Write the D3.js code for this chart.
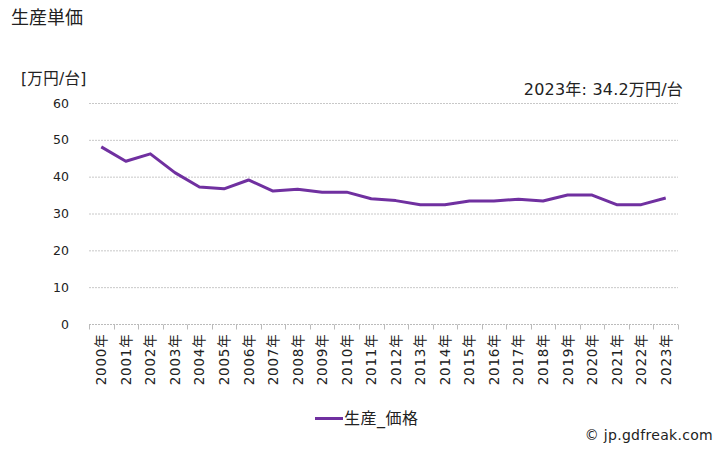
<!DOCTYPE html>
<html><head><meta charset="utf-8">
<script src="https://cdn.jsdelivr.net/npm/d3@7"></script>
<style>body{margin:0;background:#fff;}text{font-family:"DejaVu Sans","Noto Sans CJK JP",sans-serif;fill:#222;}</style>
</head><body>
<script>
const years = ["2000年","2001年","2002年","2003年","2004年","2005年","2006年","2007年","2008年","2009年","2010年","2011年","2012年","2013年","2014年","2015年","2016年","2017年","2018年","2019年","2020年","2021年","2022年","2023年"];
const prices = [48.1,44.2,46.2,41.1,37.2,36.7,39.1,36.1,36.6,35.8,35.8,34.0,33.5,32.4,32.4,33.4,33.4,33.9,33.4,35.0,35.0,32.4,32.4,34.2];
const yTicks = [0,10,20,30,40,50,60];
const seriesName = "生産_価格";
const lineColor = "#7030a0";

const W=728,H=450;
const svg=d3.select("body").append("svg").attr("width",W).attr("height",H);
const L=89,R=678,T=103,B=324;
const x=d3.scaleBand().domain(years).range([L,R]);
const y=d3.scaleLinear().domain([0,60]).range([B,T]);

svg.append("text").attr("x",11).attr("y",24).attr("font-size",18).text("生産単価");
svg.append("text").attr("x",21).attr("y",84).attr("font-size",15.5).attr("letter-spacing",0.3).text("[万円/台]");
svg.append("text").attr("x",683).attr("y",95).attr("font-size",16).attr("letter-spacing",0.2).attr("text-anchor","end").text("2023年: 34.2万円/台");

// grid
svg.append("g").selectAll("line").data(yTicks.filter(d=>d>0)).join("line")
  .attr("x1",L).attr("x2",R).attr("y1",d=>y(d)+0.5).attr("y2",d=>y(d)+0.5)
  .attr("stroke","#c8c8c8").attr("stroke-width",1).attr("stroke-dasharray","2,1");
// y labels
svg.append("g").selectAll("text").data(yTicks).join("text")
  .attr("x",69).attr("y",d=>y(d)+4.5).attr("text-anchor","end").attr("font-size",12.5).text(d=>d);
// x axis
const xa=svg.append("g").attr("transform",`translate(0,${B+0.5})`);
xa.append("line").attr("x1",L).attr("x2",R).attr("stroke","#bbb").attr("stroke-dasharray","2,1");
const bounds=years.map(d=>x(d)).concat([R]);
xa.selectAll("line.t").data(bounds).join("line").attr("class","t")
  .attr("x1",d=>Math.round(d)+0.5).attr("x2",d=>Math.round(d)+0.5).attr("y1",0).attr("y2",5).attr("stroke","#bbb");
xa.selectAll("text").data(years).join("text")
  .attr("transform",d=>`translate(${x(d)+x.bandwidth()/2+5},9) rotate(-90)`)
  .attr("text-anchor","end").attr("font-size",13.5).attr("letter-spacing",0.8).text(d=>d);

// line
const line=d3.line().x((d,i)=>x(years[i])+x.bandwidth()/2).y(d=>y(d));
svg.append("path").datum(prices).attr("d",line).attr("fill","none")
  .attr("stroke",lineColor).attr("stroke-width",3).attr("stroke-linejoin","round");

// legend
svg.append("line").attr("x1",315).attr("x2",343).attr("y1",418.5).attr("y2",418.5).attr("stroke",lineColor).attr("stroke-width",3);
svg.append("text").attr("x",344).attr("y",424).attr("font-size",16).attr("letter-spacing",0.5).text(seriesName);
svg.append("text").attr("x",713).attr("y",440).attr("text-anchor","end").attr("font-size",14).attr("letter-spacing",0.3).text("© jp.gdfreak.com");
</script>
</body></html>
